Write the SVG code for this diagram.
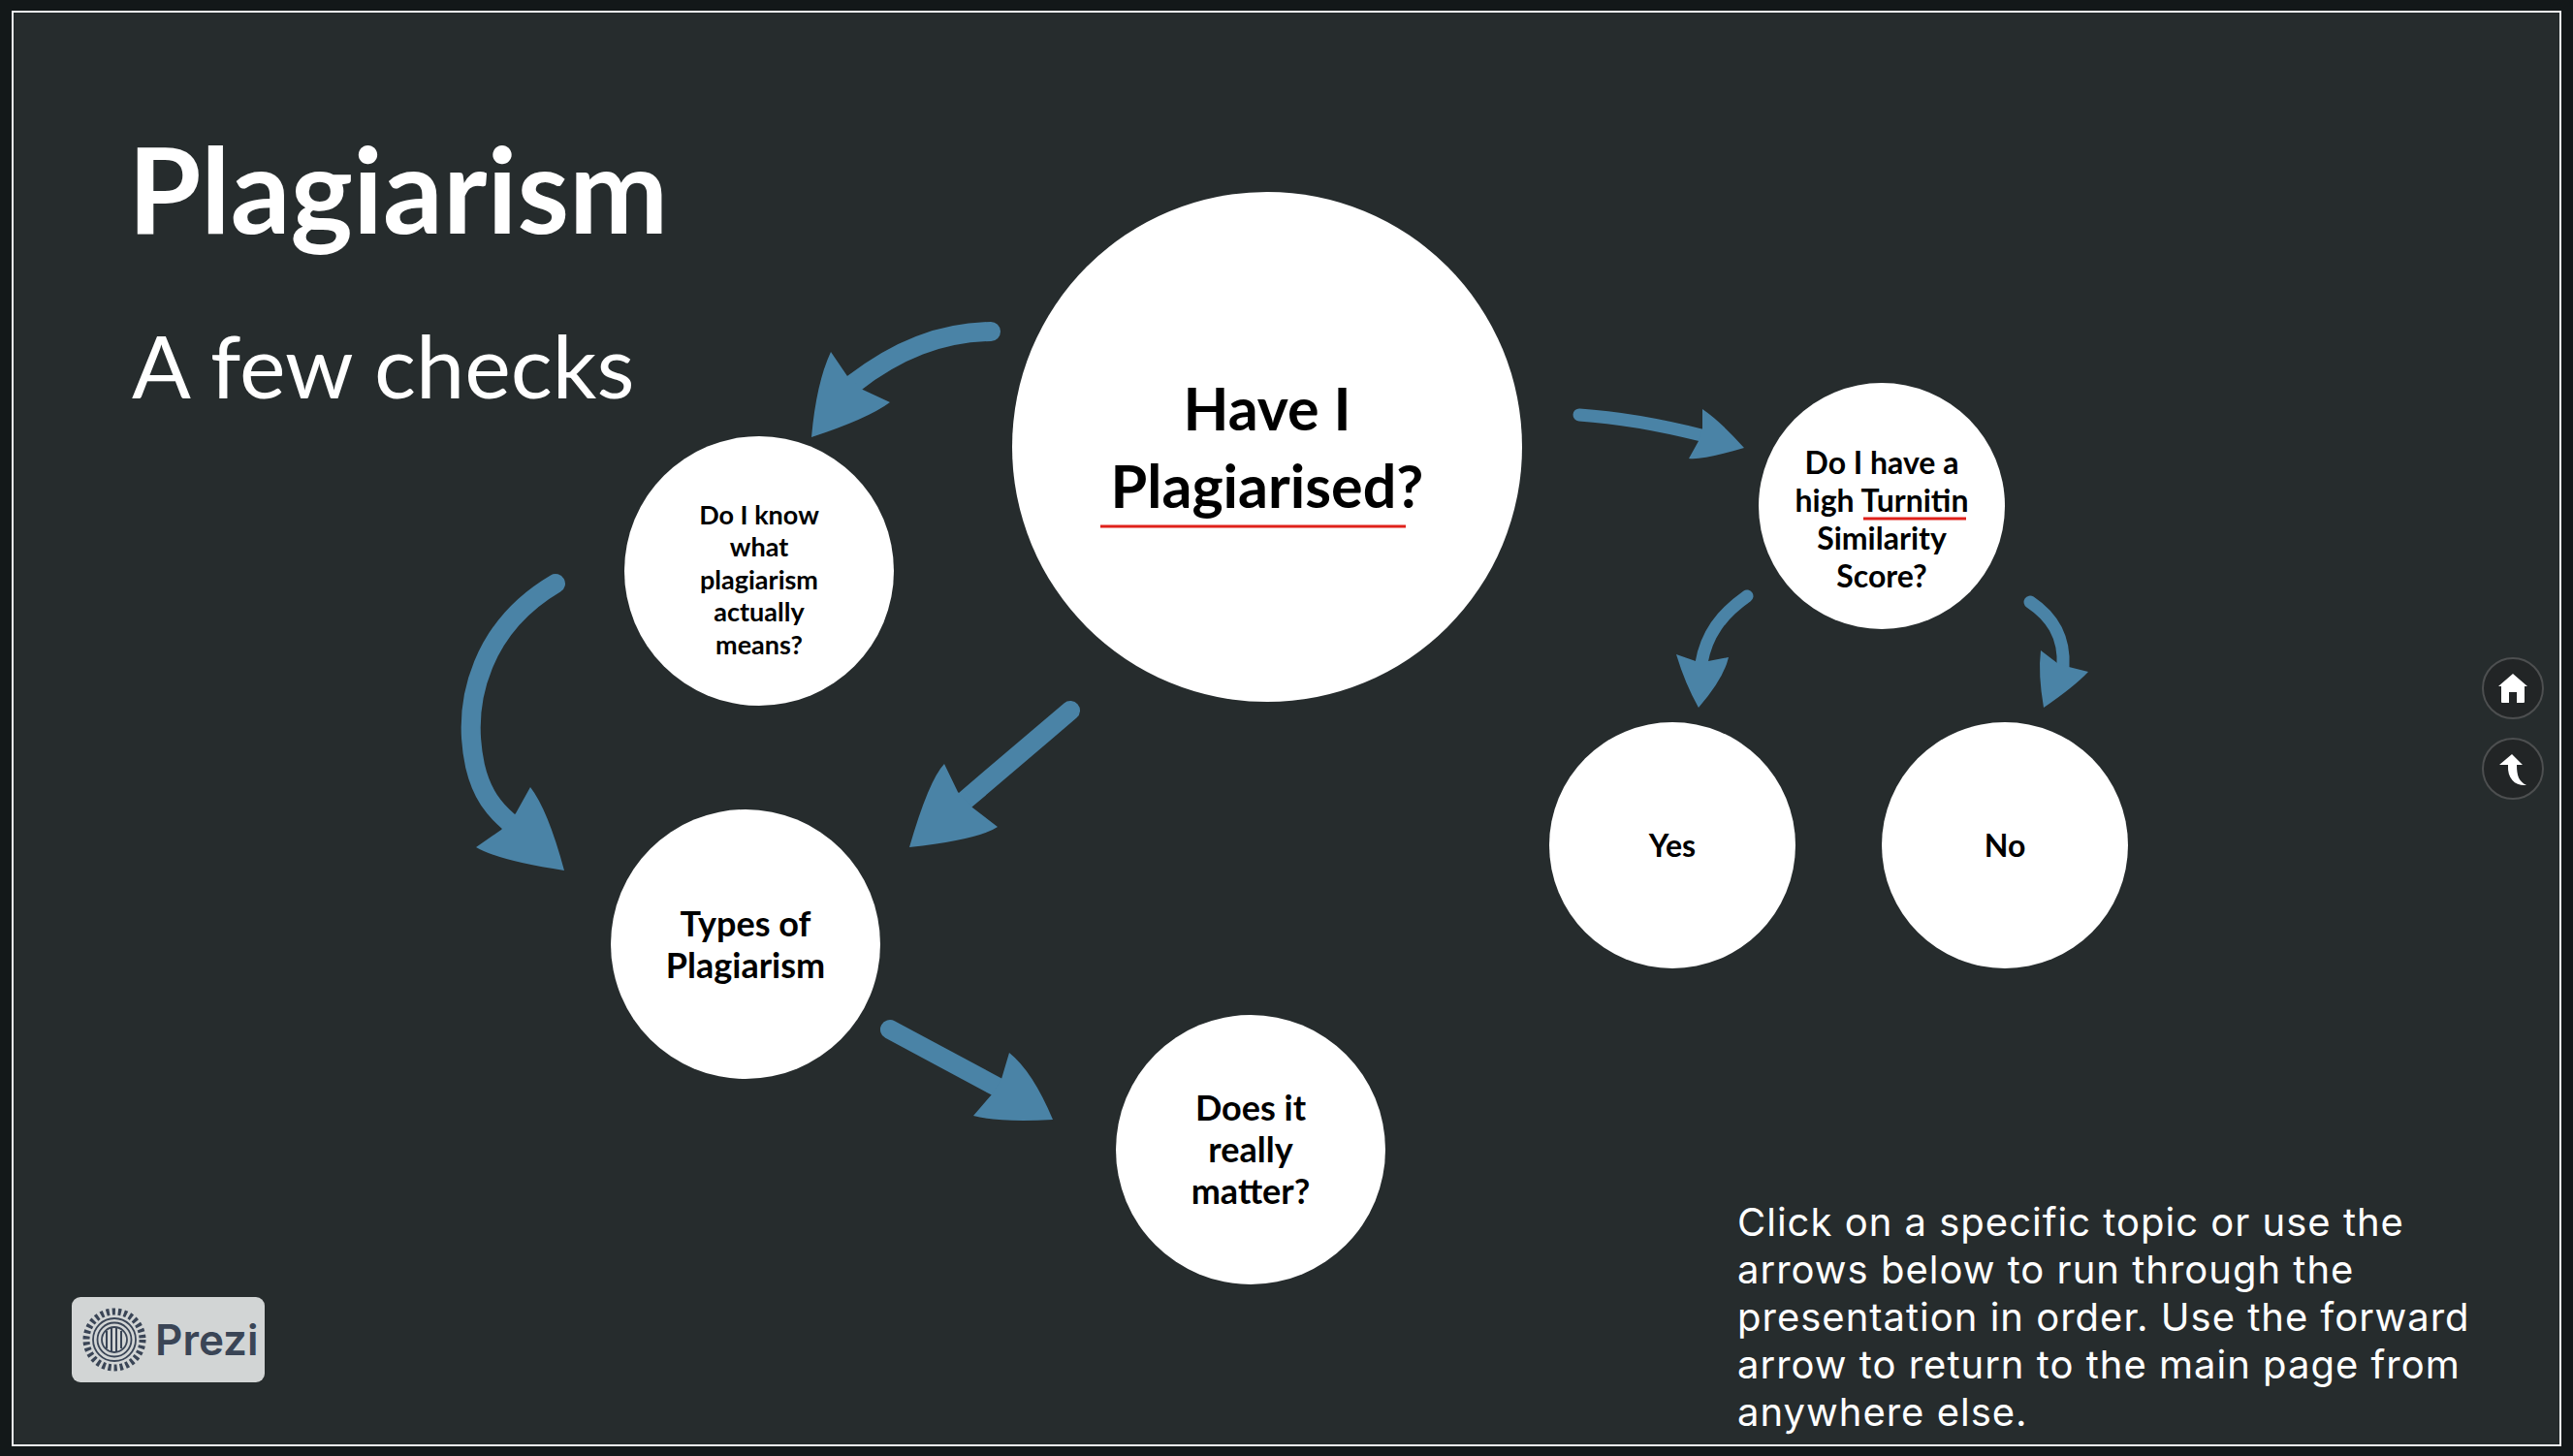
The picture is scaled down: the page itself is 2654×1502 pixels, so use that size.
<svg xmlns="http://www.w3.org/2000/svg" width="2654" height="1502" viewBox="0 0 2654 1502">
<style>
.node{fill:#fff}
.lbl{font-family:Lato,"Noto Sans",sans-serif;font-weight:700;fill:#000;text-anchor:middle}
.arrow{fill:#4a83a6}
.shaft{fill:none;stroke:#4a83a6;stroke-linecap:round}
.mark{stroke:#e0211b;stroke-width:3;fill:none}
.note{font-family:Inter,"Liberation Sans",sans-serif;font-size:40px;fill:#fff}
</style>
<rect width="2654" height="1502" fill="#131819"/>
<rect x="13" y="12" width="2628" height="1479" fill="#262c2d" stroke="#f2f4f5" stroke-width="2"/>

<text x="132" y="241" font-family="Lato,sans-serif" font-weight="700" font-size="122" fill="#fff">Plagiarism</text>
<text x="136" y="411" font-family="Lato,sans-serif" font-size="90" fill="#fff">A few checks</text>

<g id="connectors">
<path class="shaft" stroke-width="20" d="M1022 342C970 343 925 361 880 396"/>
<path class="arrow" d="M837 451Q842 395 857 363L874 388 890 402 918 415Q895 432 837 451Z"/>
<path class="shaft" stroke-width="20" d="M573 602C500 645 475 720 490 790C497 820 510 835 525 848"/>
<path class="arrow" d="M582 898Q565 835 547 812L532 839 517 856 491 874Q515 888 582 898Z"/>
<path class="shaft" stroke-width="20" d="M1104 733L996 825"/>
<path class="arrow" d="M938 874Q958 805 974 788L988 817 1003 833 1029 853Q1010 866 938 874Z"/>
<path class="shaft" stroke-width="13" d="M1629 428C1675 431 1715 439 1755 449"/>
<path class="arrow" d="M1799 462Q1775 435 1756 422V442L1752 455 1742 473Q1755 475 1799 462Z"/>
<path class="shaft" stroke-width="13" d="M1802 615C1775 634 1760 655 1755 684"/>
<path class="arrow" d="M1752 730Q1738 705 1729 675L1749 682H1762L1783 678Q1778 700 1752 730Z"/>
<path class="shaft" stroke-width="13" d="M2094 621C2115 635 2130 655 2128 688"/>
<path class="arrow" d="M2108 730Q2102 695 2105 671L2122 684 2134 688 2154 693Q2140 708 2108 730Z"/>
<path class="shaft" stroke-width="20" d="M918 1062L1028 1121"/>
<path class="arrow" d="M1086 1155Q1065 1105 1041 1086L1033 1113 1023 1129 1004 1151Q1030 1158 1086 1155Z"/>
</g>

<g id="node-main">
<circle class="node" cx="1307" cy="461" r="263"/>
<text class="lbl" font-size="61" x="1307" y="444">Have I</text>
<text class="lbl" font-size="61" x="1307" y="524">Plagiarised?</text>
<path class="mark" d="M1135 543H1450"/>
</g>
<g id="node-meaning">
<circle class="node" cx="783" cy="589" r="139"/>
<text class="lbl" font-size="27" x="783" y="541">Do I know</text>
<text class="lbl" font-size="27" x="783" y="574">what</text>
<text class="lbl" font-size="27" x="783" y="608">plagiarism</text>
<text class="lbl" font-size="27" x="783" y="641">actually</text>
<text class="lbl" font-size="27" x="783" y="675">means?</text>
</g>
<g id="node-types">
<circle class="node" cx="769" cy="974" r="139"/>
<text class="lbl" font-size="36" x="769" y="966">Types of</text>
<text class="lbl" font-size="36" x="769" y="1009">Plagiarism</text>
</g>
<g id="node-matter">
<circle class="node" cx="1290" cy="1186" r="139"/>
<text class="lbl" font-size="36" x="1290" y="1156">Does it</text>
<text class="lbl" font-size="36" x="1290" y="1199">really</text>
<text class="lbl" font-size="36" x="1290" y="1242">matter?</text>
</g>
<g id="node-score">
<circle class="node" cx="1941" cy="522" r="127"/>
<text class="lbl" font-size="32" x="1941" y="489">Do I have a</text>
<text class="lbl" font-size="32" x="1941" y="528">high Turnitin</text>
<text class="lbl" font-size="32" x="1941" y="567">Similarity</text>
<text class="lbl" font-size="32" x="1941" y="606">Score?</text>
<path class="mark" d="M1922 535H2028"/>
</g>
<g id="node-yes">
<circle class="node" cx="1725" cy="872" r="127"/>
<text class="lbl" font-size="32" x="1725" y="884">Yes</text>
</g>
<g id="node-no">
<circle class="node" cx="2068" cy="872" r="127"/>
<text class="lbl" font-size="32" x="2068" y="884">No</text>
</g>

<g id="note">
<text class="note" x="1792" y="1275" letter-spacing="1">Click on a specific topic or use the</text>
<text class="note" x="1792" y="1324" letter-spacing="1">arrows below to run through the</text>
<text class="note" x="1792" y="1373" letter-spacing="1">presentation in order. Use the forward</text>
<text class="note" x="1792" y="1422" letter-spacing="1">arrow to return to the main page from</text>
<text class="note" x="1792" y="1471" letter-spacing="1">anywhere else.</text>
</g>

<g id="logo">
<rect x="74" y="1338" width="199" height="88" rx="9" fill="#d2d5d5"/>
<circle cx="118" cy="1382" r="29" fill="none" stroke="#3a4556" stroke-width="7" stroke-dasharray="3.2 2.9"/>
<circle cx="118" cy="1382" r="22" fill="none" stroke="#3a4556" stroke-width="1.8"/>
<circle cx="118" cy="1382" r="17.5" fill="none" stroke="#3a4556" stroke-width="1.8"/>
<circle cx="118" cy="1382" r="13" fill="none" stroke="#3a4556" stroke-width="1.8"/>
<path d="M110 1373v18M115 1369v26M120 1369v26M125 1373v18" stroke="#3a4556" stroke-width="2" fill="none"/>
<text x="160" y="1398" font-family="Inter,sans-serif" font-weight="600" font-size="44" fill="#3a4556">Prezi</text>
</g>

<g id="nav-home">
<circle cx="2592" cy="710" r="31" fill="#222526" stroke="#4d4f50" stroke-width="2"/>
<path d="M2577 708L2592 695 2607 708H2604V724a1 1 0 0 1-1 1H2596V714H2588V725H2581a1 1 0 0 1-1-1V708Z" fill="#fff"/>
</g>
<g id="nav-back">
<circle cx="2592" cy="793" r="31" fill="#222526" stroke="#4d4f50" stroke-width="2"/>
<path d="M2578 789L2591 778 2602 789H2596C2596 800 2598 806 2606 810C2595 811 2586 804 2587 789Z" fill="#fff"/>
</g>
</svg>
